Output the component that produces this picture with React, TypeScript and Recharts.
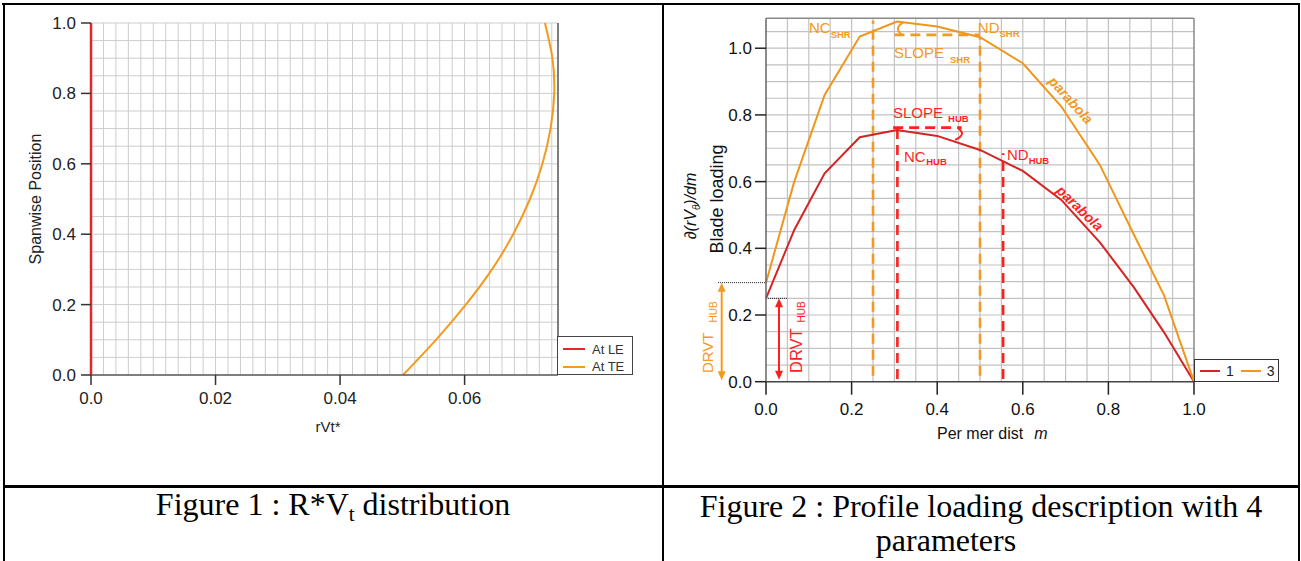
import React from 'react';
import { LineChart, Line, XAxis, YAxis, ReferenceLine, ReferenceDot } from 'recharts';

const SANS = "Arial, 'Liberation Sans', Helvetica, sans-serif";
const SERIF = "'Times New Roman', 'Liberation Serif', Times, serif";

// ---------------- Figure 1 data ----------------
const leSpan = [0, 1];
const leRVt = [0, 0];
const teSpan = [0, 0.1, 0.2, 0.3, 0.4, 0.5, 0.6, 0.7, 0.8, 0.9, 1.0];
const teRVt = [0.0501, 0.0554, 0.0602, 0.0644, 0.0678, 0.0705, 0.0725, 0.0738, 0.0744, 0.0741, 0.0729];
const fig1XTicks = [0, 0.02, 0.04, 0.06];
const fig1XTickLabels = ['0.0', '0.02', '0.04', '0.06'];
const fig1YTicks = [0, 0.2, 0.4, 0.6, 0.8, 1.0];
const fig1YTickLabels = ['0.0', '0.2', '0.4', '0.6', '0.8', '1.0'];
const fig1SeriesNames = ['At LE', 'At TE'];
const fig1XMax = 0.075;

// ---------------- Figure 2 data ----------------
const merDist = [0, 0.066, 0.137, 0.219, 0.306, 0.4, 0.5, 0.6, 0.69, 0.78, 0.86, 0.93, 1.0];
const hubLoading = [0.25, 0.455, 0.625, 0.733, 0.755, 0.737, 0.695, 0.632, 0.545, 0.418, 0.282, 0.148, 0];
const shroudLoading = [0.297, 0.6, 0.86, 1.035, 1.08, 1.065, 1.033, 0.955, 0.825, 0.65, 0.44, 0.259, 0];
const fig2XTicks = [0, 0.2, 0.4, 0.6, 0.8, 1.0];
const fig2XTickLabels = ['0.0', '0.2', '0.4', '0.6', '0.8', '1.0'];
const fig2YTicks = [0, 0.2, 0.4, 0.6, 0.8, 1.0];
const fig2YTickLabels = ['0.0', '0.2', '0.4', '0.6', '0.8', '1.0'];
const fig2SeriesNames = ['1', '3'];
const fig2YMax = 1.09;

// loading parameters
const ncShroud = 0.25;
const ndShroud = 0.5;
const slopeShroudY = 1.04;
const ncHub = 0.307;
const ndHub = 0.554;
const slopeHubY = 0.762;
const drvtShroud = 0.297;
const drvtHub = 0.25;

// angle marks (slope arcs)
const shroudArcX = [0.3215, 0.31, 0.309, 0.316];
const shroudArcY = [1.078, 1.066, 1.053, 1.042];
const hubArcX = [0.4493, 0.458, 0.453, 0.442];
const hubArcY = [0.76, 0.746, 0.734, 0.725];

// grid values
const fig1GridX = Array.from({ length: 37 }, (_, i) => +((i + 1) * 0.002).toFixed(3));
const fig1GridY = Array.from({ length: 20 }, (_, i) => +((i + 1) * 0.05).toFixed(2));
const fig2GridX = Array.from({ length: 19 }, (_, i) => +((i + 1) * 0.05).toFixed(2));
const fig2GridY = Array.from({ length: 21 }, (_, i) => +((i + 1) * 0.05).toFixed(2));

const RED1 = '#e8262a';
const ORANGE1 = '#f39a1f';
const RED2 = '#d42424';
const ORANGE2 = '#f0961c';
const RED_ANN = '#ff1f1f';
const ORANGE_ANN = '#f39a1e';

const leData = leSpan.map((s, i) => ({ x: leRVt[i], y: s }));
const teData = teSpan.map((s, i) => ({ x: teRVt[i], y: s }));
const hubData = merDist.map((m, i) => ({ x: m, y: hubLoading[i] }));
const shroudData = merDist.map((m, i) => ({ x: m, y: shroudLoading[i] }));
const shroudArc = shroudArcX.map((x, i) => ({ x, y: shroudArcY[i] }));
const hubArc = hubArcX.map((x, i) => ({ x, y: hubArcY[i] }));

type Annot = {
  x: number; y: number; main: string; sub?: string; color: string; size: number;
  subSize?: number; subBold?: boolean; dx?: number; dy?: number; rotate?: number;
  italic?: boolean; bold?: boolean; anchor?: 'start' | 'middle';
};

const annotations: Annot[] = [
  { x: 0.1005, y: 1.0456, main: 'NC', sub: 'SHR', color: ORANGE_ANN, size: 15, subSize: 9.5, subBold: true, dx: 0, dy: 5 },
  { x: 0.495, y: 1.0456, main: 'ND', sub: 'SHR', color: ORANGE_ANN, size: 15, subSize: 9.5, subBold: true, dx: 0, dy: 4 },
  { x: 0.299, y: 0.9706, main: 'SLOPE', sub: 'SHR', color: ORANGE_ANN, size: 15, subSize: 9.5, subBold: true, dx: 6, dy: 5 },
  { x: 0.2967, y: 0.7907, main: 'SLOPE', sub: 'HUB', color: RED_ANN, size: 15, subSize: 9.5, subBold: true, dx: 5, dy: 4 },
  { x: 0.3224, y: 0.6588, main: 'NC', sub: 'HUB', color: RED_ANN, size: 15, subSize: 9.5, subBold: true, dx: 0.5, dy: 3 },
  { x: 0.563, y: 0.6648, main: 'ND', sub: 'HUB', color: RED_ANN, size: 15, subSize: 9.5, subBold: true, dx: 0, dy: 4 },
  { x: 0.7126, y: 0.8446, main: 'parabola', color: ORANGE_ANN, size: 14, rotate: 48, italic: true, bold: true, anchor: 'middle' },
  { x: 0.7336, y: 0.5205, main: 'parabola', color: RED_ANN, size: 14, rotate: 44, italic: true, bold: true, anchor: 'middle' },
  { x: -0.1238, y: 0.026, main: 'DRVT', sub: 'HUB', color: ORANGE_ANN, size: 15, subSize: 10, dx: 10, dy: 4, rotate: -90 },
  { x: 0.0841, y: 0.026, main: 'DRVT', sub: 'HUB', color: RED_ANN, size: 16.5, subSize: 10, dx: 6, dy: 3, rotate: -90 },
];

const textShape = (a: Annot) => (p: any) => {
  const { cx, cy } = p;
  return (
    <text
      x={cx}
      y={cy}
      fill={a.color}
      fontSize={a.size}
      fontFamily={SANS}
      fontStyle={a.italic ? 'italic' : 'normal'}
      fontWeight={a.bold ? 'bold' : 'normal'}
      textAnchor={a.anchor || 'start'}
      dominantBaseline={a.anchor === 'middle' ? 'central' : 'auto'}
      transform={a.rotate ? `rotate(${a.rotate} ${cx} ${cy})` : undefined}
    >
      {a.main}
      {a.sub ? (
        <tspan dx={a.dx || 0} dy={a.dy || 0} fontSize={a.subSize} fontWeight={a.subBold ? 'bold' : 'normal'}>
          {a.sub}
        </tspan>
      ) : null}
    </text>
  );
};

const arrowShape = (color: string) => (p: any) => {
  const { x1, y1, y2 } = p;
  const top = Math.min(y1, y2);
  const bot = Math.max(y1, y2);
  const h = 9;
  const w = 4;
  return (
    <g>
      <line x1={x1} y1={top + h - 1} x2={x1} y2={bot - h + 1} stroke={color} strokeWidth={2} />
      <path d={`M${x1},${top} L${x1 - w},${top + h} L${x1 + w},${top + h} Z`} fill={color} />
      <path d={`M${x1},${bot} L${x1 - w},${bot - h} L${x1 + w},${bot - h} Z`} fill={color} />
    </g>
  );
};

const abs = (extra: React.CSSProperties): React.CSSProperties => ({ position: 'absolute', ...extra });

function Figure1() {
  const gridProps: any = { stroke: '#cdcdcd', strokeWidth: 1, zIndex: -10 };
  return (
    <LineChart width={663} height={486} margin={{ top: 23, right: 105, left: 0, bottom: 71 }}>
      {fig1GridX.map((v) => (
        <ReferenceLine key={'gx' + v} x={v} {...gridProps} />
      ))}
      {fig1GridY.map((v) => (
        <ReferenceLine key={'gy' + v} y={v} {...gridProps} />
      ))}
      <XAxis
        type="number"
        dataKey="x"
        domain={[0, fig1XMax]}
        ticks={fig1XTicks}
        interval={0}
        height={40}
        tickSize={10}
        tickMargin={7}
        tickFormatter={(v: number) => fig1XTickLabels[fig1XTicks.indexOf(v)]}
        tick={{ fontSize: 17, fill: '#222', fontFamily: SANS }}
        axisLine={{ stroke: '#555', strokeWidth: 1.5 }}
        tickLine={{ stroke: '#333', strokeWidth: 1.5 }}
      />
      <YAxis
        type="number"
        domain={[0, 1]}
        ticks={fig1YTicks}
        interval={0}
        width={91}
        tickSize={10}
        tickMargin={5}
        tickFormatter={(v: number) => fig1YTickLabels[fig1YTicks.indexOf(v)]}
        tick={{ fontSize: 17, fill: '#222', fontFamily: SANS }}
        axisLine={false}
        tickLine={{ stroke: '#333', strokeWidth: 1.5 }}
      />
      <ReferenceLine x={fig1XMax} stroke="#555" strokeWidth={1.5} />
      <Line data={leData} dataKey="y" name={fig1SeriesNames[0]} type="linear" stroke={RED1} strokeWidth={2.5} dot={false} isAnimationActive={false} />
      <Line data={teData} dataKey="y" name={fig1SeriesNames[1]} type="natural" stroke={ORANGE1} strokeWidth={2} dot={false} isAnimationActive={false} />
    </LineChart>
  );
}

function Figure2() {
  const dash = '10 6';
  const gridProps: any = { stroke: '#c2c2c2', strokeWidth: 1.2, zIndex: -10 };
  return (
    <LineChart width={638} height={486} margin={{ top: 18.2, right: 107, left: 0, bottom: 64.3 }}>
      {fig2GridX.map((v) => (
        <ReferenceLine key={'gx' + v} x={v} {...gridProps} />
      ))}
      {fig2GridY.map((v) => (
        <ReferenceLine key={'gy' + v} y={v} {...gridProps} />
      ))}
      <XAxis
        type="number"
        dataKey="x"
        domain={[0, 1]}
        ticks={fig2XTicks}
        interval={0}
        height={40}
        tickSize={13}
        tickMargin={8}
        tickFormatter={(v: number) => fig2XTickLabels[fig2XTicks.indexOf(v)]}
        tick={{ fontSize: 17, fill: '#111', fontFamily: SANS }}
        axisLine={{ stroke: '#444', strokeWidth: 1.5 }}
        tickLine={{ stroke: '#222', strokeWidth: 1.5 }}
      />
      <YAxis
        type="number"
        domain={[0, fig2YMax]}
        ticks={fig2YTicks}
        interval={0}
        width={103}
        tickSize={11}
        tickMargin={3}
        tickFormatter={(v: number) => fig2YTickLabels[fig2YTicks.indexOf(v)]}
        tick={{ fontSize: 17, fill: '#111', fontFamily: SANS }}
        axisLine={{ stroke: '#666', strokeWidth: 1.5 }}
        tickLine={{ stroke: '#222', strokeWidth: 1.5 }}
      />
      <ReferenceLine y={fig2YMax} stroke="#8a8a8a" strokeWidth={1.5} />
      <ReferenceLine x={1} stroke="#8a8a8a" strokeWidth={1.5} />

      {/* DRVT reference lines */}
      <ReferenceLine segment={[{ x: -0.112, y: drvtShroud }, { x: 0, y: drvtShroud }]} stroke="#222" strokeWidth={1} strokeDasharray="1 1" ifOverflow="visible" />
      <ReferenceLine segment={[{ x: 0, y: drvtHub }, { x: 0.051, y: drvtHub }]} stroke="#222" strokeWidth={1} strokeDasharray="1 1" ifOverflow="visible" />
      <ReferenceLine segment={[{ x: -0.1035, y: drvtShroud }, { x: -0.1035, y: 0.004 }]} ifOverflow="visible" shape={arrowShape(ORANGE_ANN)} />
      <ReferenceLine segment={[{ x: 0.0304, y: drvtHub }, { x: 0.0304, y: 0.006 }]} ifOverflow="visible" shape={arrowShape(RED_ANN)} />

      {/* NC / ND dashed lines */}
      <ReferenceLine segment={[{ x: ncShroud, y: 0.018 }, { x: ncShroud, y: 1.0825 }]} stroke={ORANGE_ANN} strokeWidth={2.6} strokeDasharray={dash} />
      <ReferenceLine segment={[{ x: ndShroud, y: 0.018 }, { x: ndShroud, y: 1.03 }]} stroke={ORANGE_ANN} strokeWidth={2.6} strokeDasharray={dash} />
      <ReferenceLine segment={[{ x: ncHub, y: 0.008 }, { x: ncHub, y: 0.757 }]} stroke={RED_ANN} strokeWidth={2.6} strokeDasharray={dash} />
      <ReferenceLine segment={[{ x: ndHub, y: 0.008 }, { x: ndHub, y: 0.685 }]} stroke={RED_ANN} strokeWidth={2.6} strokeDasharray={dash} />
      <ReferenceLine segment={[{ x: 0.3, y: slopeShroudY }, { x: 0.5, y: slopeShroudY }]} stroke={ORANGE_ANN} strokeWidth={2.6} strokeDasharray={dash} />
      <ReferenceLine segment={[{ x: 0.297, y: slopeHubY }, { x: 0.457, y: slopeHubY }]} stroke={RED_ANN} strokeWidth={2.6} strokeDasharray={dash} />

      <Line data={hubData} dataKey="y" name={fig2SeriesNames[0]} type="linear" stroke={RED2} strokeWidth={2} dot={false} isAnimationActive={false} />
      <Line data={shroudData} dataKey="y" name={fig2SeriesNames[1]} type="linear" stroke={ORANGE2} strokeWidth={2} dot={false} isAnimationActive={false} />
      <Line data={shroudArc} dataKey="y" type="natural" stroke={ORANGE_ANN} strokeWidth={2} dot={false} legendType="none" isAnimationActive={false} />
      <Line data={hubArc} dataKey="y" type="natural" stroke={RED_ANN} strokeWidth={2} dot={false} legendType="none" isAnimationActive={false} />

      {annotations.map((a, i) => (
        <ReferenceDot key={i} x={a.x} y={a.y} r={0} ifOverflow="visible" shape={textShape(a)} />
      ))}
    </LineChart>
  );
}

export default function App() {
  const line = '#000';
  return (
    <div style={abs({ left: 0, top: 0, width: 1301, height: 561, background: '#fff', overflow: 'hidden' })}>
      {/* table borders */}
      <div style={abs({ left: 2, top: 3, width: 1298, height: 1.6, background: line })} />
      <div style={abs({ left: 2.5, top: 3, width: 2, height: 558, background: line })} />
      <div style={abs({ left: 662, top: 3, width: 2.2, height: 558, background: line })} />
      <div style={abs({ left: 1298, top: 3, width: 2, height: 558, background: line })} />
      <div style={abs({ left: 2.5, top: 485, width: 1297.5, height: 2.5, background: line })} />

      <div style={abs({ left: 0, top: 0 })}>
        <Figure1 />
      </div>
      <div style={abs({ left: 663, top: 0 })}>
        <Figure2 />
      </div>

      {/* Figure 1 axis titles */}
      <div style={abs({ left: 36, top: 199, transform: 'translate(-50%,-50%) rotate(-90deg)', whiteSpace: 'nowrap', fontFamily: SANS, fontSize: 16, color: '#222' })}>
        Spanwise Position
      </div>
      <div style={abs({ left: 328, top: 426, transform: 'translate(-50%,-50%)', whiteSpace: 'nowrap', fontFamily: SANS, fontSize: 15, color: '#222' })}>
        rVt*
      </div>

      {/* Figure 1 legend */}
      <div style={abs({ left: 557, top: 336, width: 76, height: 39, boxSizing: 'border-box', border: '1px solid #444', background: '#fff', fontFamily: SANS, fontSize: 13, color: '#333' })}>
        {fig1SeriesNames.map((n, i) => (
          <div key={n} style={abs({ left: 5, top: 4 + i * 17.5, height: 16, display: 'flex', alignItems: 'center', whiteSpace: 'nowrap' })}>
            <span style={{ display: 'inline-block', width: 22, height: 2, background: i === 0 ? RED1 : ORANGE1, marginRight: 7 }} />
            {n}
          </div>
        ))}
      </div>

      {/* Figure 2 axis titles */}
      <div style={abs({ left: 716.5, top: 199, transform: 'translate(-50%,-50%) rotate(-90deg)', whiteSpace: 'nowrap', fontFamily: SANS, fontSize: 18, color: '#111' })}>
        Blade loading
      </div>
      <div style={abs({ left: 691, top: 206, transform: 'translate(-50%,-50%) rotate(-90deg)', whiteSpace: 'nowrap', fontFamily: SANS, fontSize: 16, fontStyle: 'italic', color: '#111' })}>
        ∂(rV<span style={{ fontSize: 10, position: 'relative', top: 4 }}>θ</span>)/dm
      </div>
      <div style={abs({ left: 937, top: 434, transform: 'translateY(-50%)', whiteSpace: 'nowrap', fontFamily: SANS, fontSize: 16, color: '#111' })}>
        Per mer dist<span style={{ fontStyle: 'italic', marginLeft: 11 }}>m</span>
      </div>

      {/* Figure 2 legend */}
      <div style={abs({ left: 1194, top: 359, width: 85, height: 23, boxSizing: 'border-box', border: '1px solid #333', background: '#fff', fontFamily: SANS, fontSize: 14, color: '#222', display: 'flex', alignItems: 'center', paddingLeft: 5, whiteSpace: 'nowrap' })}>
        {fig2SeriesNames.map((n, i) => (
          <span key={n} style={{ display: 'inline-flex', alignItems: 'center', marginRight: 7 }}>
            <span style={{ display: 'inline-block', width: 20, height: 2, background: i === 0 ? RED2 : ORANGE2, marginRight: 6 }} />
            {n}
          </span>
        ))}
      </div>

      {/* captions */}
      <div style={abs({ left: 4, width: 658, top: 487, lineHeight: '35px', textAlign: 'center', fontFamily: SERIF, fontSize: 32, color: '#000', whiteSpace: 'nowrap' })}>
        Figure 1 : R*V<span style={{ fontSize: 21, position: 'relative', top: 6 }}>t</span> distribution
      </div>
      <div style={abs({ left: 664, width: 634, top: 489, lineHeight: '35px', textAlign: 'center', fontFamily: SERIF, fontSize: 32, color: '#000', whiteSpace: 'nowrap' })}>
        Figure 2 : Profile loading description with 4
      </div>
      <div style={abs({ left: 946, top: 523, lineHeight: '35px', transform: 'translateX(-50%)', fontFamily: SERIF, fontSize: 32, color: '#000', whiteSpace: 'nowrap' })}>
        parameters
      </div>
    </div>
  );
}
